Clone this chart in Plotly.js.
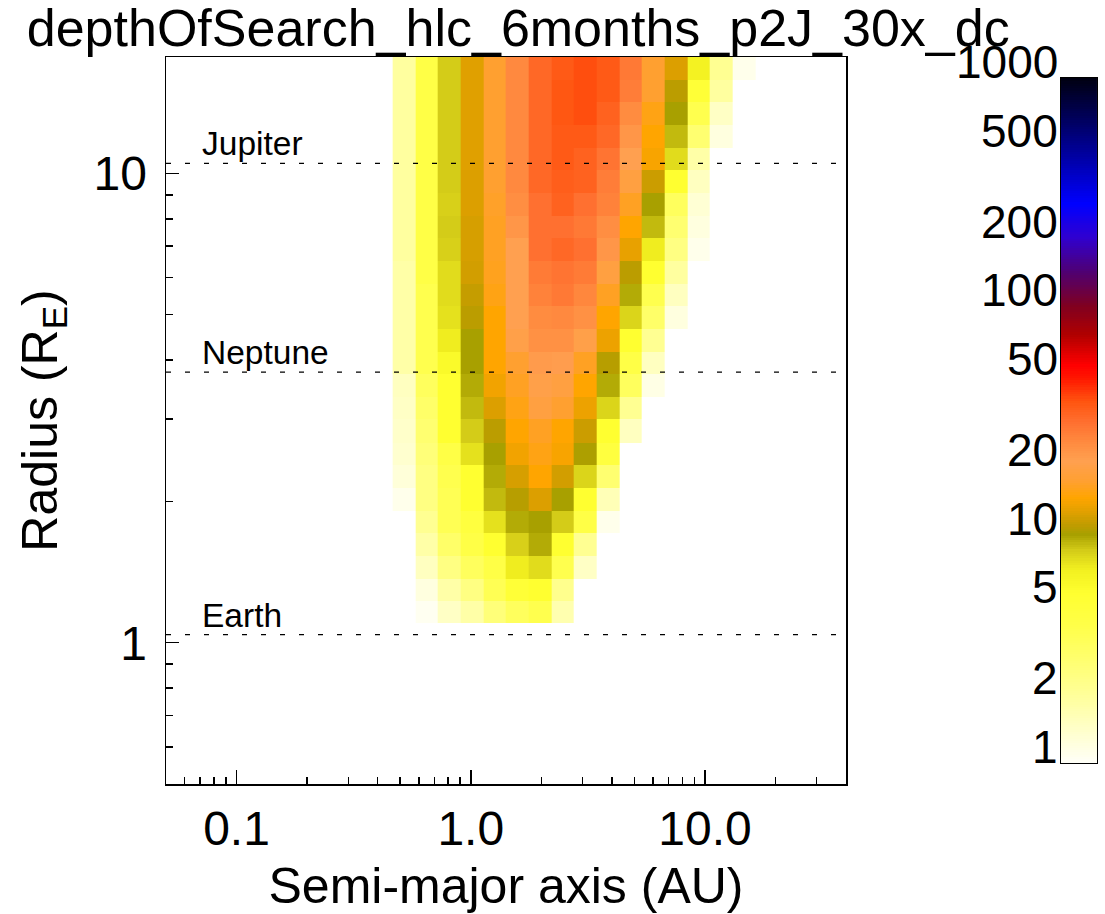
<!DOCTYPE html>
<html>
<head>
<meta charset="utf-8">
<script src="https://cdn.plot.ly/plotly-3.0.1.min.js"></script>
<style>
  html, body { margin: 0; padding: 0; background: #ffffff; }
  #chart { width: 1105px; height: 914px; }
</style>
</head>
<body>
<div id="chart"></div>
<script>
// Semi-major axis bin edges (AU)
const semiMajorAxisEdges = [0.4642, 0.5800, 0.7248, 0.9058, 1.1319, 1.4145, 1.7676, 2.2088,
  2.7603, 3.4494, 4.3106, 5.3867, 6.7315, 8.4120, 10.506, 13.128, 16.406];

// Planet radius bin edges (R_E), largest first
const radiusEdges = [17.70, 15.84, 14.17, 12.68, 11.35, 10.15, 9.08, 8.13, 7.27, 6.51, 5.82,
  5.21, 4.66, 4.17, 3.73, 3.34, 2.99, 2.67, 2.39, 2.14, 1.91, 1.71, 1.53, 1.37, 1.23, 1.10];

// Depth of search per (radius, semi-major axis) bin; one row per radius bin, largest radius first
const depthOfSearch = [
  [1.9, 4.1, 8.5, 12.5, 17, 25.5, 33, 36.5, 39, 36.5, 29, 17, 12.3, 6.8, 2.1, 1.1],
  [1.9, 4.1, 8.5, 12.5, 17, 25.5, 33, 37.5, 39, 36.5, 28, 17, 10.8, 5.0, 1.9, null],
  [1.9, 4.1, 8.5, 12.5, 17, 25.5, 33, 37.5, 39, 34.5, 25, 15.5, 10.0, 3.8, 1.45, null],
  [1.9, 4.1, 8.5, 12.5, 17, 25.5, 33, 36.5, 36.5, 33, 23, 14.5, 9.1, 2.8, 1.2, null],
  [1.9, 4.1, 8.5, 12.5, 17, 25.5, 33, 36.5, 34.5, 30, 21, 14, 7.8, 1.8, null, null],
  [1.9, 4.1, 8.5, 12.3, 17, 25.5, 33, 35.5, 34.5, 28, 19, 11.5, 5.5, 1.5, null, null],
  [1.9, 4.1, 8.3, 12.3, 16.6, 24.5, 31, 34.5, 31, 27, 16.3, 10, 3.3, 1.3, null, null],
  [1.9, 4.1, 8.5, 12, 16.3, 23, 31, 31, 29, 24.5, 14.5, 9.1, 2.8, 1.2, null, null],
  [1.9, 4.1, 8.3, 12, 16.3, 21, 31, 33, 31, 23, 13, 7.1, 2.4, 1.1, null, null],
  [1.8, 4.1, 7.8, 11.8, 16, 21, 28.5, 30, 28.5, 19, 10.8, 5.5, 1.9, null, null, null],
  [1.8, 3.8, 7.8, 11.2, 15.5, 21, 27, 29, 26, 16.3, 9.6, 3.8, 1.5, null, null, null],
  [1.8, 3.8, 7.6, 10.8, 14.5, 21, 25, 25.5, 24, 14.5, 8.1, 3.0, 1.2, null, null, null],
  [1.8, 3.8, 7.1, 10, 14.5, 20, 24, 24, 20, 13.3, 5.5, 2.1, null, null, null, null],
  [1.8, 3.8, 6, 10, 14.5, 17, 22, 21.5, 16.3, 10.6, 4.1, 1.5, null, null, null, null],
  [1.5, 3.3, 5.5, 9.6, 13.6, 16.3, 20, 19, 14.5, 9.6, 3.3, 1.15, null, null, null, null],
  [1.45, 3.0, 5.5, 9.1, 12.3, 15.5, 19, 17, 13.3, 8.1, 2.1, null, null, null, null, null],
  [1.4, 2.8, 5.5, 8.5, 10.8, 14.5, 16.3, 14.5, 11.5, 5.5, 1.5, null, null, null, null, null],
  [1.35, 2.6, 4.1, 7.6, 10, 13.6, 15.5, 14, 10.2, 4.5, null, null, null, null, null, null],
  [1.25, 2.4, 3.8, 5.5, 9.6, 12, 14.5, 11.8, 8.1, 2.8, null, null, null, null, null, null],
  [1.1, 2.4, 3.6, 5.5, 9.1, 10.6, 12.3, 10, 5.5, 1.6, null, null, null, null, null, null],
  [null, 2.1, 3.6, 4.5, 7.6, 9.6, 10, 8.5, 4.1, 1.1, null, null, null, null, null, null],
  [null, 1.8, 3.0, 4.1, 5.5, 8.3, 9.6, 5.5, 2.1, null, null, null, null, null, null, null],
  [null, 1.5, 2.4, 3.3, 4.1, 7.1, 7.8, 3.8, 1.45, null, null, null, null, null, null, null],
  [null, 1.2, 1.8, 2.4, 3.6, 5.0, 5.5, 2.2, null, null, null, null, null, null, null, null],
  [null, 1.05, 1.45, 1.8, 2.6, 3.3, 3.8, 1.7, null, null, null, null, null, null, null, null]
];

// Reference planets drawn as dashed lines
const planetNames = ['Jupiter', 'Neptune', 'Earth'];
const planetRadii = [10.5, 3.77, 1.04];

// Colour bar labels
const colorTickValues = [1, 2, 5, 10, 20, 50, 100, 200, 500, 1000];
const colorTickText = ['1', '2', '5', '10', '20', '50', '100', '200', '500', '1000'];

// Axis ticks
const xMajorTicks = [0.1, 1, 10];
const xMajorText = ['0.1', '1.0', '10.0'];
const xMinorTicks = [0.06, 0.07, 0.08, 0.09, 0.2, 0.3, 0.4, 0.5, 0.6, 0.7, 0.8, 0.9,
  2, 3, 4, 5, 6, 7, 8, 9, 20, 30];
const yMajorTicks = [1, 10];
const yMajorText = ['1', '10'];
const yMinorTicks = [0.6, 0.7, 0.8, 0.9, 2, 3, 4, 5, 6, 7, 8, 9];

const xRange = [0.05, 40];
const yRange = [0.5, 17.7];
const zLogRange = [0, 3];   // colour scale covers 1 .. 1000

// Colour table keyed by value; positions are taken in log10 over 1..1000
const colorTable = [
  [1, '#fffff8'], [1.5, '#ffffc0'], [2, '#ffff98'], [3, '#ffff68'], [4, '#ffff48'],
  [5.5, '#ffff30'], [7, '#f2f020'], [8.5, '#d4cc18'], [10, '#a8a000'], [11, '#c09c00'],
  [12.5, '#e0a000'], [14.5, '#ffa500'], [17, '#ffa030'], [21, '#ffa050'], [25, '#ff8c40'],
  [31, '#ff7030'], [38, '#ff5510'], [48, '#ff1800'], [55, '#ff0000'], [75, '#b00000'],
  [100, '#800020'], [140, '#500070'], [200, '#3000d0'], [280, '#0000ff'], [500, '#000090'],
  [1000, '#000010']
];
const colorscale = colorTable.map(([v, c]) => [Math.log10(v) / 3, c]);

const FONT = 'Liberation Sans, Arial, Helvetica, sans-serif';

// Heatmap rows from smallest radius up
const zLog = depthOfSearch.slice().reverse()
  .map(row => row.map(v => (v == null ? null : Math.log10(v))));
const yEdges = radiusEdges.slice().reverse();

const heat = {
  type: 'heatmap',
  x: semiMajorAxisEdges,
  y: yEdges,
  z: zLog,
  zmin: zLogRange[0], zmax: zLogRange[1],
  colorscale: colorscale,
  showscale: false,
  hoverinfo: 'skip',
  xaxis: 'x', yaxis: 'y'
};

// Colour key ramp
const keyLevels = [];
for (let i = 0; i <= 300; i++) keyLevels.push(zLogRange[0] + (zLogRange[1] - zLogRange[0]) * i / 300);
const key = {
  type: 'heatmap',
  x: [0],
  y: keyLevels,
  z: keyLevels.map(l => [l]),
  zmin: zLogRange[0], zmax: zLogRange[1],
  colorscale: colorscale,
  showscale: false,
  hoverinfo: 'skip',
  xaxis: 'x2', yaxis: 'y2'
};

// Dashed reference lines across the full plot width
const shapes = planetRadii.map(r => ({
  type: 'line', xref: 'x domain', yref: 'y',
  x0: 0, x1: 1, y0: r, y1: r,
  line: { color: 'black', width: 1.3, dash: '5px,14px' }
}));

const planetLabels = planetNames.map((name, i) => ({
  xref: 'x domain', yref: 'y',
  x: 0.05, y: Math.log10(planetRadii[i]),
  xanchor: 'left', yanchor: 'bottom', yshift: -1,
  text: name, showarrow: false,
  font: { family: FONT, size: 33.5, color: 'black' }
}));

// Colour bar labels sit with their baseline on the level they mark
const colorLabels = colorTickValues.map((v, i) => ({
  xref: 'x2 domain', yref: 'y2',
  x: 0, y: Math.log10(v),
  xanchor: 'right', yanchor: 'middle', xshift: -1, yshift: 16,
  text: colorTickText[i], showarrow: false,
  font: { family: FONT, size: 46, color: 'black' }
}));

const layout = {
  width: 1105, height: 914,
  paper_bgcolor: 'white', plot_bgcolor: 'white',
  margin: { l: 166, r: 8, t: 57, b: 130 },
  showlegend: false,
  font: { family: FONT, color: 'black' },
  title: {
    text: 'depthOfSearch_hlc_6months_p2J_30x_dc',
    font: { family: FONT, size: 52, color: 'black' },
    xref: 'container', yref: 'container',
    x: 0.469, xanchor: 'center',
    y: 0.97, yanchor: 'middle'
  },
  xaxis: {
    domain: [0, 0.7304], anchor: 'y',
    type: 'log', range: xRange.map(Math.log10),
    tickmode: 'array', tickvals: xMajorTicks, ticktext: xMajorText,
    ticks: 'inside', ticklen: 14, tickwidth: 1.5, tickcolor: 'black',
    minor: { tickmode: 'array', tickvals: xMinorTicks, ticks: 'inside', ticklen: 7, tickwidth: 1.5, tickcolor: 'black', showgrid: false },
    showline: true, mirror: true, linecolor: 'black', linewidth: 1.5,
    showgrid: false, zeroline: false,
    tickfont: { family: FONT, size: 48, color: 'black' },
    ticklabelstandoff: 2,
    title: { text: 'Semi-major axis (AU)', font: { family: FONT, size: 50, color: 'black' }, standoff: 21 }
  },
  yaxis: {
    domain: [0, 1], anchor: 'x',
    type: 'log', range: yRange.map(Math.log10),
    tickmode: 'array', tickvals: yMajorTicks, ticktext: yMajorText,
    ticks: 'inside', ticklen: 13, tickwidth: 1.5, tickcolor: 'black',
    minor: { tickmode: 'array', tickvals: yMinorTicks, ticks: 'inside', ticklen: 7, tickwidth: 1.5, tickcolor: 'black', showgrid: false },
    showline: true, mirror: true, linecolor: 'black', linewidth: 1.5,
    showgrid: false, zeroline: false,
    tickfont: { family: FONT, size: 48, color: 'black' },
    ticklabelstandoff: 8,
    title: { text: 'Radius (R<sub>E</sub>)', font: { family: FONT, size: 50, color: 'black' }, standoff: 20 }
  },
  xaxis2: {
    domain: [0.9613, 1], anchor: 'y2',
    range: [-0.5, 0.5], showticklabels: false, ticks: '',
    showline: true, mirror: true, linecolor: 'black', linewidth: 1,
    showgrid: false, zeroline: false, fixedrange: true
  },
  yaxis2: {
    domain: [0.0289, 0.9711], anchor: 'x2',
    range: zLogRange, showticklabels: false, ticks: '',
    showline: true, mirror: true, linecolor: 'black', linewidth: 1,
    showgrid: false, zeroline: false, fixedrange: true
  },
  shapes: shapes,
  annotations: planetLabels.concat(colorLabels)
};

Plotly.newPlot('chart', [heat, key], layout, { displayModeBar: false, staticPlot: true });
</script>
</body>
</html>
